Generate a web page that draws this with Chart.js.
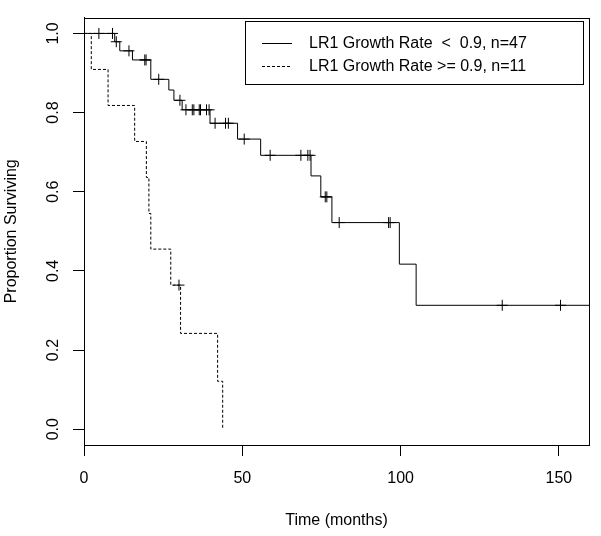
<!DOCTYPE html>
<html>
<head>
<meta charset="utf-8">
<script src="https://cdn.jsdelivr.net/npm/chart.js@4/dist/chart.umd.min.js"></script>
<style>
  html, body { margin: 0; padding: 0; background: #fff; }
  #wrap { width: 601px; height: 536px; }
</style>
</head>
<body>
<div id="wrap"><canvas id="km"></canvas></div>
<script>
// Kaplan-Meier steps (time in months, proportion surviving)
const lowTimes = [0, 9.7, 11.3, 15.3, 21.1, 26.8, 28.4, 31.0, 39.8, 48.5, 55.8, 71.7, 74.8, 78.3, 99.6, 104.9, 159.5];
const lowSurv  = [1, 0.979, 0.956, 0.933, 0.884, 0.857, 0.831, 0.807, 0.773, 0.733, 0.692, 0.640, 0.587, 0.522, 0.417, 0.313, 0.313];

const highTimes = [0, 2.3, 7.6, 16.0, 19.7, 20.5, 21.1, 27.4, 30.5, 42.2, 43.8];
const highSurv  = [1, 0.909, 0.818, 0.727, 0.636, 0.545, 0.455, 0.364, 0.242, 0.121, 0];

// censored observations (tick marks)
const lowCensorTimes = [4.7, 9.0, 10.2, 14.2, 19.2, 19.6, 23.6, 30.3, 32.2, 34.2, 34.7, 36.4, 36.8, 38.7, 39.5,
                        41.4, 44.7, 45.6, 50.6, 58.8, 68.5, 70.7, 71.4, 76.2, 76.7, 80.6, 96.2, 96.7, 132.1, 150.5];
const lowCensorSurv  = [1, 1, 0.979, 0.956, 0.933, 0.933, 0.884, 0.831, 0.807, 0.807, 0.807, 0.807, 0.807, 0.807, 0.807,
                        0.773, 0.773, 0.773, 0.733, 0.692, 0.692, 0.692, 0.692, 0.587, 0.587, 0.522, 0.522, 0.522, 0.313, 0.313];
const highCensorTimes = [30.0];
const highCensorSurv  = [0.364];

const xTicks = [0, 50, 100, 150];
const yTicks = [0, 0.2, 0.4, 0.6, 0.8, 1.0];
const legendLabels = ["LR1 Growth Rate  <  0.9, n=47", "LR1 Growth Rate >= 0.9, n=11"];

const FONT = "'Liberation Sans', Arial, sans-serif";
const pts = (xs, ys) => xs.map((x, i) => ({ x: x, y: ys[i] }));

// box round the plot region + legend inside it
const boxPlugin = {
  id: 'rbox',
  afterDraw(chart) {
    const { ctx, chartArea: a } = chart;
    ctx.save();
    ctx.strokeStyle = '#000';
    ctx.lineWidth = 1;
    ctx.strokeRect(Math.round(a.left) + 0.5, Math.round(a.top) + 0.5,
                   Math.round(a.right - a.left), Math.round(a.bottom - a.top));

    // legend
    const lx = 245.5, ly = 21.5, lw = 338, lh = 63;
    ctx.strokeRect(lx, ly, lw, lh);
    ctx.font = '16px ' + FONT;
    ctx.fillStyle = '#000';
    ctx.textBaseline = 'middle';
    const rows = [43.5, 66.5];
    rows.forEach((ry, i) => {
      ctx.beginPath();
      ctx.setLineDash(i === 0 ? [] : [3, 2]);
      ctx.moveTo(262, ry);
      ctx.lineTo(292, ry);
      ctx.stroke();
      ctx.fillText(legendLabels[i], 309, ry);
    });
    ctx.restore();
  }
};

new Chart(document.getElementById('km'), {
  type: 'scatter',
  data: {
    datasets: [
      { data: pts(lowCensorTimes, lowCensorSurv), pointStyle: 'cross', radius: 5.5, borderColor: '#000', borderWidth: 1, showLine: false },
      { data: pts(highCensorTimes, highCensorSurv), pointStyle: 'cross', radius: 5.5, borderColor: '#000', borderWidth: 1, showLine: false },
      { data: pts(lowTimes, lowSurv), showLine: true, stepped: 'before', borderColor: '#000', borderWidth: 1, pointRadius: 0 },
      { data: pts(highTimes, highSurv), showLine: true, stepped: 'before', borderColor: '#000', borderWidth: 1, borderDash: [3, 2], pointRadius: 0 }
    ]
  },
  options: {
    responsive: true,
    maintainAspectRatio: false,
    animation: false,
    layout: { padding: { top: 6, right: 12, left: 0, bottom: 0 } },
    plugins: { legend: { display: false }, tooltip: { enabled: false } },
    scales: {
      x: {
        type: 'linear', min: 0, max: 159.5,
        afterBuildTicks: s => { s.ticks = xTicks.map(v => ({ value: v })); },
        afterFit: s => { s.height = 91; },
        grid: { drawOnChartArea: false, tickLength: 11, color: '#000' },
        border: { color: '#000' },
        ticks: { font: { family: FONT, size: 16 }, color: '#000', padding: 13, maxRotation: 0,
                 callback: v => String(v) },
        title: { display: true, text: 'Time (months)', font: { family: FONT, size: 16 }, color: '#000',
                 padding: { top: 0, bottom: 6 } }
      },
      y: {
        type: 'linear', min: -0.04, max: 1.04,
        afterBuildTicks: s => { s.ticks = yTicks.map(v => ({ value: v })); },
        afterFit: s => { s.width = 84; },
        grid: { drawOnChartArea: false, tickLength: 11, color: '#000' },
        border: { color: '#000' },
        ticks: { font: { family: FONT, size: 16 }, color: '#000', padding: 8, minRotation: 90, maxRotation: 90,
                 crossAlign: 'center', callback: v => v.toFixed(1) },
        title: { display: true, text: 'Proportion Surviving', font: { family: FONT, size: 16 }, color: '#000',
                 padding: { top: 2, bottom: 0 } }
      }
    }
  },
  plugins: [boxPlugin]
});
</script>
</body>
</html>
